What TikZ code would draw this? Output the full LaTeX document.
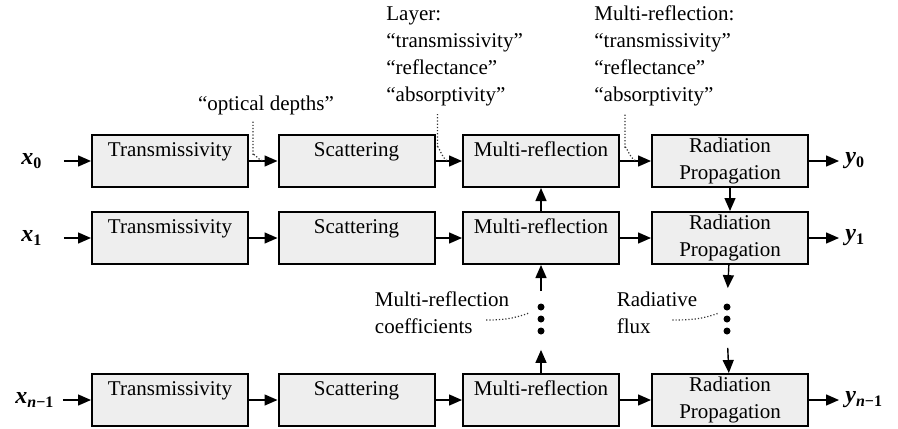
\documentclass[tikz,border=0pt]{standalone}
\usepackage{fontspec}
\setmainfont{Liberation Serif}
\usetikzlibrary{arrows.meta}
\definecolor{boxgrey}{RGB}{238,238,238}
\begin{document}
\begin{tikzpicture}[x=0.5pt,y=-0.5pt,>={Stealth[inset=0pt,length=6.5pt,width=5.5pt]},
  every node/.append style={font=\fontsize{10.5}{13.5}\selectfont},
  block/.style={draw,fill=boxgrey,line width=1pt,minimum width=78pt,minimum height=26pt,inner sep=0pt,align=center},
  oneline/.style={text height=8pt,text depth=13pt},
  flow/.style={->,line width=0.7pt},
  hint/.style={densely dotted,line width=0.6pt,black!80},
  dot/.style={circle,fill,inner sep=0pt,minimum size=3.5pt},
  lab/.style={font=\fontsize{12}{14}\selectfont\bfseries\itshape,inner sep=0pt}]
 \useasboundingbox (0,0) rectangle (898,428);
 \node[block,oneline] (t0) at (170,161) {Transmissivity};
 \node[block,oneline] (s0) at (356.5,161) {Scattering};
 \node[block,oneline] (m0) at (541,161) {Multi-reflection};
 \node[block] (r0) at (730,161) {Radiation\\Propagation};
 \node[block,oneline] (t1) at (170,238) {Transmissivity};
 \node[block,oneline] (s1) at (356.5,238) {Scattering};
 \node[block,oneline] (m1) at (541,238) {Multi-reflection};
 \node[block] (r1) at (730,238) {Radiation\\Propagation};
 \node[block,oneline] (t2) at (170,400) {Transmissivity};
 \node[block,oneline] (s2) at (356.5,400) {Scattering};
 \node[block,oneline] (m2) at (541,400) {Multi-reflection};
 \node[block] (r2) at (730,400) {Radiation\\Propagation};
 \node[lab,anchor=west,text width=21pt] (x0) at (21,161) {x\textsubscript{\upshape 0}};
 \node[lab,anchor=west,text width=21pt] (x1) at (21,238) {x\textsubscript{\upshape 1}};
 \node[lab,anchor=west,text width=23.5pt] (x2) at (15,400) {x\textsubscript{n\upshape −1}};
 \node[lab,anchor=west] (y0) at (845,161) {y\textsubscript{\upshape 0}};
 \node[lab,anchor=west] (y1) at (845,238) {y\textsubscript{\upshape 1}};
 \node[lab,anchor=west] (y2) at (845,400) {y\textsubscript{n\upshape −1}};
 \draw[flow] (x0) -- (t0);
 \draw[flow] (t0) -- coordinate (od) (s0);
 \draw[flow] (s0) -- coordinate (ly) (m0);
 \draw[flow] (m0) -- coordinate[pos=0.55] (mr) (r0);
 \draw[flow] (r0) -- ([xshift=-3pt]y0.west);
 \draw[flow] (x1) -- (t1);
 \draw[flow] (t1) -- (s1);
 \draw[flow] (s1) -- (m1);
 \draw[flow] (m1) -- (r1);
 \draw[flow] (r1) -- ([xshift=-3pt]y1.west);
 \draw[flow] (x2) -- (t2);
 \draw[flow] (t2) -- (s2);
 \draw[flow] (s2) -- (m2);
 \draw[flow] (m2) -- (r2);
 \draw[flow] (r2) -- ([xshift=-3pt]y2.west);
 \node[dot] (md1) at (541,307) {};
 \node[dot] (md2) at (541,319) {};
 \node[dot] (md3) at (541,331) {};
 \node[dot] (rd1) at (727,307) {};
 \node[dot] (rd2) at (727,319) {};
 \node[dot] (rd3) at (727,331) {};
 \draw[flow] (m1) -- (m0);
 \draw[flow,shorten <=6pt] (md1) -- (m1);
 \draw[flow,shorten >=7.5pt] (m2) -- (md3);
 \draw[flow] (r0) -- (r1);
 \draw[flow,shorten >=7.5pt] (r1) -- (rd1);
 \draw[flow,shorten <=6.5pt] (rd3) -- (r2);
 \node (odl) at (266,105) {“optical depths”};
 \node[anchor=west,align=left,inner sep=0pt] (lay) at (386,56) {Layer:\\“transmissivity”\\“reflectance”\\“absorptivity”};
 \node[anchor=west,align=left,inner sep=0pt] (mrl) at (594,56) {Multi-reflection:\\“transmissivity”\\“reflectance”\\“absorptivity”};
 \node[align=left] (mcl) at (442,313) {Multi-reflection\\coefficients};
 \node[align=left] (rfl) at (657,313) {Radiative\\flux};
 \draw[hint] ([xshift=2pt]odl.south -| t0.east) -- ++(0,34) to[out=90,in=180] (od);
 \draw[hint] ([xshift=1pt,yshift=-4pt]lay.south -| s0.east) -- ++(0,34) to[out=90,in=180] (ly);
 \draw[hint] ([xshift=2.5pt,yshift=-4pt]mrl.south -| m0.east) -- ++(0,34) to[out=90,in=180] (mr);
 \draw[hint] ([xshift=-15pt,yshift=-3.5pt]mcl.east) to[out=0,in=200] ([xshift=-6pt,yshift=3pt]md2.center);
 \draw[hint] ([xshift=-16pt,yshift=-3.5pt]rfl.east) to[out=0,in=200] ([xshift=-4pt,yshift=3pt]rd2.center);
\end{tikzpicture}
\end{document}
